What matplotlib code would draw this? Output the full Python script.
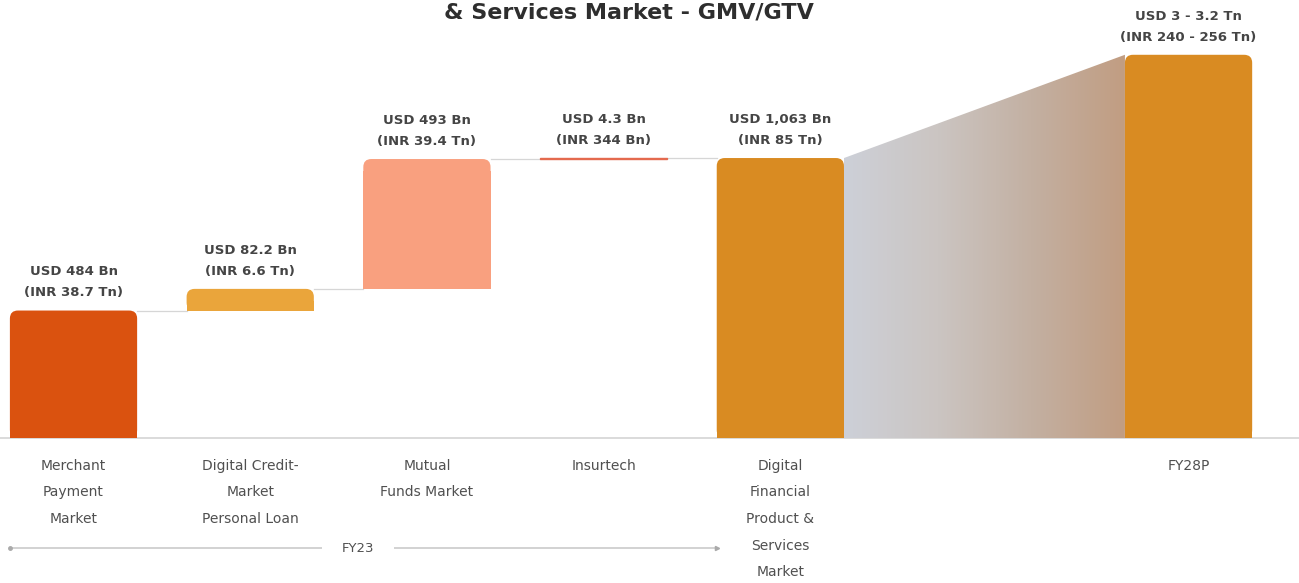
import numpy as np
import matplotlib
matplotlib.use("Agg")
import matplotlib.pyplot as plt
from matplotlib.patches import FancyBboxPatch, Rectangle, Polygon
from matplotlib.colors import LinearSegmentedColormap
import matplotlib.transforms as mtransforms

# ---------------- data ----------------
categories = ["Merchant\nPayment\nMarket",
              "Digital Credit-\nMarket\nPersonal Loan",
              "Mutual\nFunds Market",
              "Insurtech",
              "Digital\nFinancial\nProduct &\nServices\nMarket"]
usd_bn = [484, 82.2, 493, 4.3]          # FY23 segment values (USD Bn)
total_usd_bn = 1063                     # FY23 total (USD Bn)
segment_labels = ["USD 484 Bn\n(INR 38.7 Tn)",
                  "USD 82.2 Bn\n(INR 6.6 Tn)",
                  "USD 493 Bn\n(INR 39.4 Tn)",
                  "USD 4.3 Bn\n(INR 344 Bn)"]
total_label = "USD 1,063 Bn\n(INR 85 Tn)"
fy28_category = "FY28P"
fy28_label = "USD 3 - 3.2 Tn\n(INR 240 - 256 Tn)"
fy28_display_bn = 1455                  # drawn with a broken (compressed) scale
period_label = "FY23"
title = "& Services Market - GMV/GTV"

seg_colors = ["#DA520F", "#EAA53B", "#F9A07F", "#E46A4E"]
total_color = "#D98B22"

# ---------------- layout ----------------
W, H, DPI = 12.99, 5.83, 100
fig = plt.figure(figsize=(W, H), dpi=DPI)
ax = fig.add_axes([0, 0, 1, 1])
ax.set_xlim(-0.416, 6.935)
ax.set_ylim(-550.5, 1663)
ax.axis("off")

xpos = np.arange(len(categories), dtype=float)
x_fy28 = 6.31
bw = 0.72

# pixel aspect for rounded corners
xpp = (ax.get_xlim()[1] - ax.get_xlim()[0]) / (W * DPI)
ypp = (ax.get_ylim()[1] - ax.get_ylim()[0]) / (H * DPI)
asp = ypp / xpp
r = 8 * xpp  # 8 px rounding radius


def rounded(patch, color):
    x, y = patch.get_x(), patch.get_y()
    w, h = patch.get_width(), patch.get_height()
    patch.set_visible(False)
    ry = r * asp
    if h > 2 * ry:
        ax.add_patch(FancyBboxPatch((x, y), w, h,
                                    boxstyle=f"round,pad=0,rounding_size={r}",
                                    mutation_aspect=asp, fc=color, ec="none", zorder=3))
        ax.add_patch(Rectangle((x, y), w, h - ry * 1.5, fc=color, ec="none", zorder=3))
    else:
        ax.add_patch(Rectangle((x, y), w, h, fc=color, ec=color, lw=1.0, zorder=3))


# baseline
ax.axhline(0, color="#d4d4d4", lw=1.2, zorder=1)

# waterfall segments
bottoms = np.concatenate([[0], np.cumsum(usd_bn)[:-1]])
bars = ax.bar(xpos[:4], usd_bn, bottom=bottoms, width=bw, color=seg_colors)
for p, c in zip(bars, seg_colors):
    rounded(p, c)

# total + FY28P bars
tb = ax.bar([xpos[4], x_fy28], [total_usd_bn, fy28_display_bn], width=bw, color=total_color)
for p in tb:
    rounded(p, total_color)

# connectors
tops = np.cumsum(usd_bn)
for i in range(4):
    ax.plot([xpos[i] + bw / 2, xpos[i + 1] - bw / 2], [tops[i], tops[i]],
            color="#d6d6d6", lw=0.9, zorder=2)

# gradient between total and FY28P
gx0, gx1 = xpos[4] + bw / 2, x_fy28 - bw / 2
poly = Polygon([(gx0, 0), (gx0, total_usd_bn), (gx1, fy28_display_bn), (gx1, 0)],
               closed=True, fc="none", ec="none")
ax.add_patch(poly)
cmap = LinearSegmentedColormap.from_list("g", ["#cdd0d8", "#cbc5c2", "#c3b0a2", "#c19d82"])
grad = np.linspace(0, 1, 256).reshape(1, -1)
im = ax.imshow(grad, cmap=cmap, extent=[gx0, gx1, 0, fy28_display_bn],
               aspect="auto", zorder=2, interpolation="bicubic")
im.set_clip_path(poly)
ax.set_xlim(-0.416, 6.935)
ax.set_ylim(-550.5, 1663)

# value labels
lab_kw = dict(ha="center", va="bottom", fontsize=9.5, color="#454545",
              fontweight="bold", linespacing=1.8, textcoords="offset points",
              family="DejaVu Sans", zorder=5)
for i in range(4):
    ax.annotate(segment_labels[i], (xpos[i], tops[i]), xytext=(0, 8), **lab_kw)
ax.annotate(total_label, (xpos[4], total_usd_bn), xytext=(0, 8), **lab_kw)
ax.annotate(fy28_label, (x_fy28, fy28_display_bn), xytext=(0, 8), **lab_kw)

# category labels
cat_kw = dict(ha="center", va="top", fontsize=10, color="#505050",
              linespacing=2.15, textcoords="offset points", family="DejaVu Sans")
for i, c in enumerate(categories):
    ax.annotate(c, (xpos[i], 0), xytext=(0, -15), **cat_kw)
ax.annotate(fy28_category, (x_fy28, 0), xytext=(0, -15), **cat_kw)

# FY23 period bracket
tr = mtransforms.blended_transform_factory(ax.transData, ax.transAxes)
yb = 35 / (H * DPI)
xl, xr = xpos[0] - bw / 2, xpos[4] - bw / 2
ax.plot([xl, xr], [yb, yb], color="#cfcfcf", lw=1.3, transform=tr, zorder=1)
ax.plot([xl], [yb], marker="o", ms=2.5, color="#aaaaaa", transform=tr)
ax.plot([xr], [yb], marker=">", ms=3, color="#aaaaaa", transform=tr)
ax.text(1.61, yb, period_label, transform=tr, ha="center", va="center",
        fontsize=9.5, color="#505050", family="DejaVu Sans",
        bbox=dict(fc="white", ec="none", pad=14), zorder=4)

# title (at the very top of the picture)
fig.text(0.484, 1 - 2 / (H * DPI), title, ha="center", va="top",
         fontsize=16, fontweight="bold", color="#2e2e2e", family="DejaVu Sans")

fig.savefig("out.png", dpi=DPI, facecolor="white")
